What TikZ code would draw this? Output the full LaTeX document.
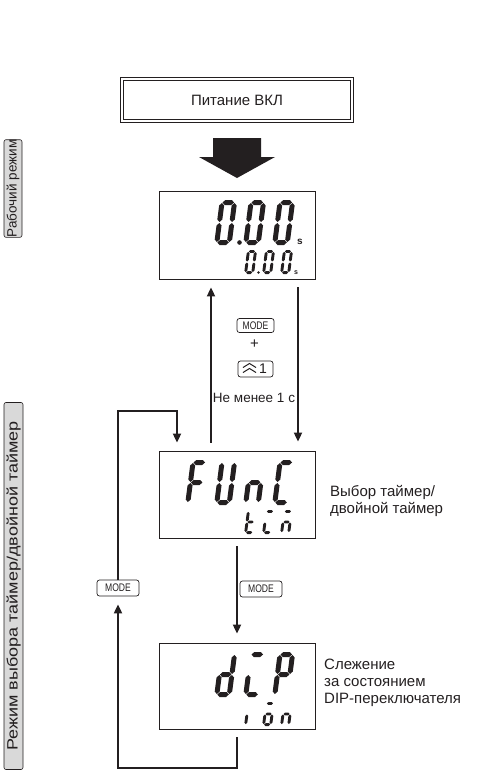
\documentclass[tikz,border=0pt]{standalone}
\usepackage{fontspec}
\setmainfont{Liberation Sans}
\usepackage{graphicx}
\usetikzlibrary{arrows.meta}
\definecolor{ink}{HTML}{231F20}
\definecolor{sidegray}{HTML}{D9D9D9}

\newcommand\hsegm[1]{\fill ({\sT/2+\sG},{#1}) -- ({\sT+\sG},{#1+\sT/2}) -- ({\sW-\sT-\sG},{#1+\sT/2}) -- ({\sW-\sT/2-\sG},{#1}) -- ({\sW-\sT-\sG},{#1-\sT/2}) -- ({\sT+\sG},{#1-\sT/2}) -- cycle;}
\newcommand\vsegm[3]{\fill ({#1},{#2+\sG}) -- ({#1+\sT/2},{#2+\sG+\sT/2}) -- ({#1+\sT/2},{#3-\sG-\sT/2}) -- ({#1},{#3-\sG}) -- ({#1-\sT/2},{#3-\sG-\sT/2}) -- ({#1-\sT/2},{#2+\sG+\sT/2}) -- cycle;}
\newcommand\sga{\hsegm{\sH-\sT/2}}
\newcommand\sgb{\vsegm{\sW-\sT/2}{\sH/2}{\sH-\sT/2}}
\newcommand\sgc{\vsegm{\sW-\sT/2}{\sT/2}{\sH/2}}
\newcommand\sgd{\hsegm{\sT/2}}
\newcommand\sge{\vsegm{\sT/2}{\sT/2}{\sH/2}}
\newcommand\sgf{\vsegm{\sT/2}{\sH/2}{\sH-\sT/2}}
\newcommand\sgg{\hsegm{\sH/2}}
\newcommand\segchar[7]{\begin{scope}[shift={(#1,#2)},x={(1pt,0pt)},y={(#6pt,1pt)},fill=ink]\def\sW{#3}\def\sH{#4}\def\sT{#5}\def\sG{0.5}\foreach \s in {#7}{\csname sg\s\endcsname}\end{scope}}
\newcommand\bigd[3]{\segchar{#1}{#2}{17.5}{45}{5}{0.13}{#3}}
\newcommand\smalld[3]{\segchar{#1}{#2}{10}{24}{2.9}{0.13}{#3}}

\tikzset{
 disp/.style={draw=ink, line width=0.8pt, minimum width=156pt, inner sep=0pt},
 arr/.style={draw=ink, line width=1.8pt, -{Triangle[length=9pt,width=8pt]}},
 keybox/.style={draw=ink, line width=0.7pt, rounded corners=2.5pt, fill=white, inner sep=0pt, text=ink, font=\fontsize{11}{11}\selectfont},
 sidebox/.style={draw=ink, line width=0.6pt, rounded corners=2pt, fill=sidegray, rotate=90, inner sep=0pt, text=ink},
 txt/.style={text=ink, inner sep=0pt},
}
\newcommand\modetxt{\scalebox{0.78}[1]{MODE}}

\begin{document}
\begin{tikzpicture}[x=1pt,y=-1pt]
\useasboundingbox (0,0) rectangle (486,777);

% power on
\node[draw=ink, double, double distance=2pt, line width=0.7pt, minimum width=230pt, minimum height=42pt, text=ink, font=\fontsize{15}{15}\selectfont] (power) at (237,100) {Питание ВКЛ};
\fill[ink] (213,138) -- (261,138) -- (261,157) -- (275,157) -- (237,178) -- (199,157) -- (213,157) -- cycle;

% side labels
\node[sidebox, minimum width=96pt, minimum height=18pt, font=\fontsize{13.5}{13.5}\selectfont] (s1) at (13,188.5) {Рабочий режим};
\node[sidebox, minimum width=367pt, minimum height=19pt, font=\fontsize{15}{15}\selectfont] (s2) at (13.5,586) {\scalebox{1.2}[1]{Режим выбора таймер/двойной таймер}};

% displays
\node[disp, minimum height=88pt] (d1) at (237,235) {};
\node[disp, minimum height=87pt] (func) at (237,494.5) {};
\node[disp, minimum height=86pt] (dip) at (237,686) {};

% display 1 : 0.00 s / 0.00 s
\bigd{214}{245}{a,b,c,d,e,f}
\fill[ink] (239.5,242.5) circle (2.3);
\bigd{243}{245}{a,b,c,d,e,f}
\bigd{272}{245}{a,b,c,d,e,f}
\node[txt, anchor=base west, font=\bfseries\fontsize{10}{10}\selectfont] at (297,244) {s};
\smalld{244}{274}{a,b,c,d,e,f}
\fill[ink] (258.5,272.5) circle (1.4);
\smalld{262}{274}{a,b,c,d,e,f}
\smalld{280}{274}{a,b,c,d,e,f}
\node[txt, anchor=base west, font=\bfseries\fontsize{7}{7}\selectfont] at (294,274) {s};

% FUnC / tim
\bigd{185}{505}{a,e,f,g}
\bigd{214}{505}{b,c,d,e,f}
\bigd{243}{505}{c,e,g}
\bigd{272}{505}{a,d,e,f}
\smalld{244}{534}{d,e,f,g}
\smalld{262}{534}{a,d,e}
\smalld{280}{534}{a,c,e,g}

% dIP / ion
\bigd{214}{697}{b,c,d,e,g}
\bigd{243}{697}{a,d,e}
\bigd{272}{697}{a,b,e,f,g}
\smalld{244}{726}{e}
\smalld{262}{726}{a,c,d,e,g}
\smalld{280}{726}{c,e,g}

% keys between display 1 and FUNC
\node[keybox, minimum width=37pt, minimum height=14pt] (keyM) at (255.5,325.5) {\modetxt};
\node[txt, font=\fontsize{15}{15}\selectfont] (plus) at (254.5,344.5) {+};
\node[keybox, minimum width=35pt, minimum height=16pt, font=\fontsize{14}{14}\selectfont] (key1) at (255.5,369) {\hspace*{15pt}1};
\draw[ink, line width=1pt] (243,367.5) -- (249.5,363.5) -- (256,367.5);
\draw[ink, line width=1pt] (243,372.5) -- (249.5,368.5) -- (256,372.5);
\node[txt, font=\fontsize{13.5}{13.5}\selectfont] (hold) at (254,398) {Не менее 1 с};

% lower keys
\node[keybox, minimum width=42pt, minimum height=16pt] (keyL) at (118,588) {\modetxt};
\node[keybox, minimum width=42pt, minimum height=16pt] (keyR) at (261,589) {\modetxt};

% connectors
\draw[arr, shorten <=8pt, shorten >=8pt] ([xshift=-26pt]func.north) -- ([xshift=-26pt]d1.south);
\draw[arr, shorten <=8pt, shorten >=9pt] ([xshift=61pt]d1.south) -- ([xshift=61pt]func.north);
\draw[arr, shorten <=8pt, shorten >=9pt] (func.south) -- (dip.north);
\coordinate (lb) at (118,768);
\coordinate (lt) at (118,411);
\draw[arr, shorten >=8pt] ([yshift=-8pt]dip.south) |- (lb) -- (keyL.south);
\draw[arr, shorten >=8pt] (keyL.north) -- (lt) -| ([xshift=-60pt]func.north);

% descriptions
\node[txt, anchor=west, align=left, font=\fontsize{15}{17}\selectfont] (t1) at (330,501) {Выбор таймер/\\двойной таймер};
\node[txt, anchor=west, align=left, font=\fontsize{15}{17}\selectfont] (t2) at (324,683) {Слежение\\за состоянием\\DIP-переключателя};
\end{tikzpicture}
\end{document}
